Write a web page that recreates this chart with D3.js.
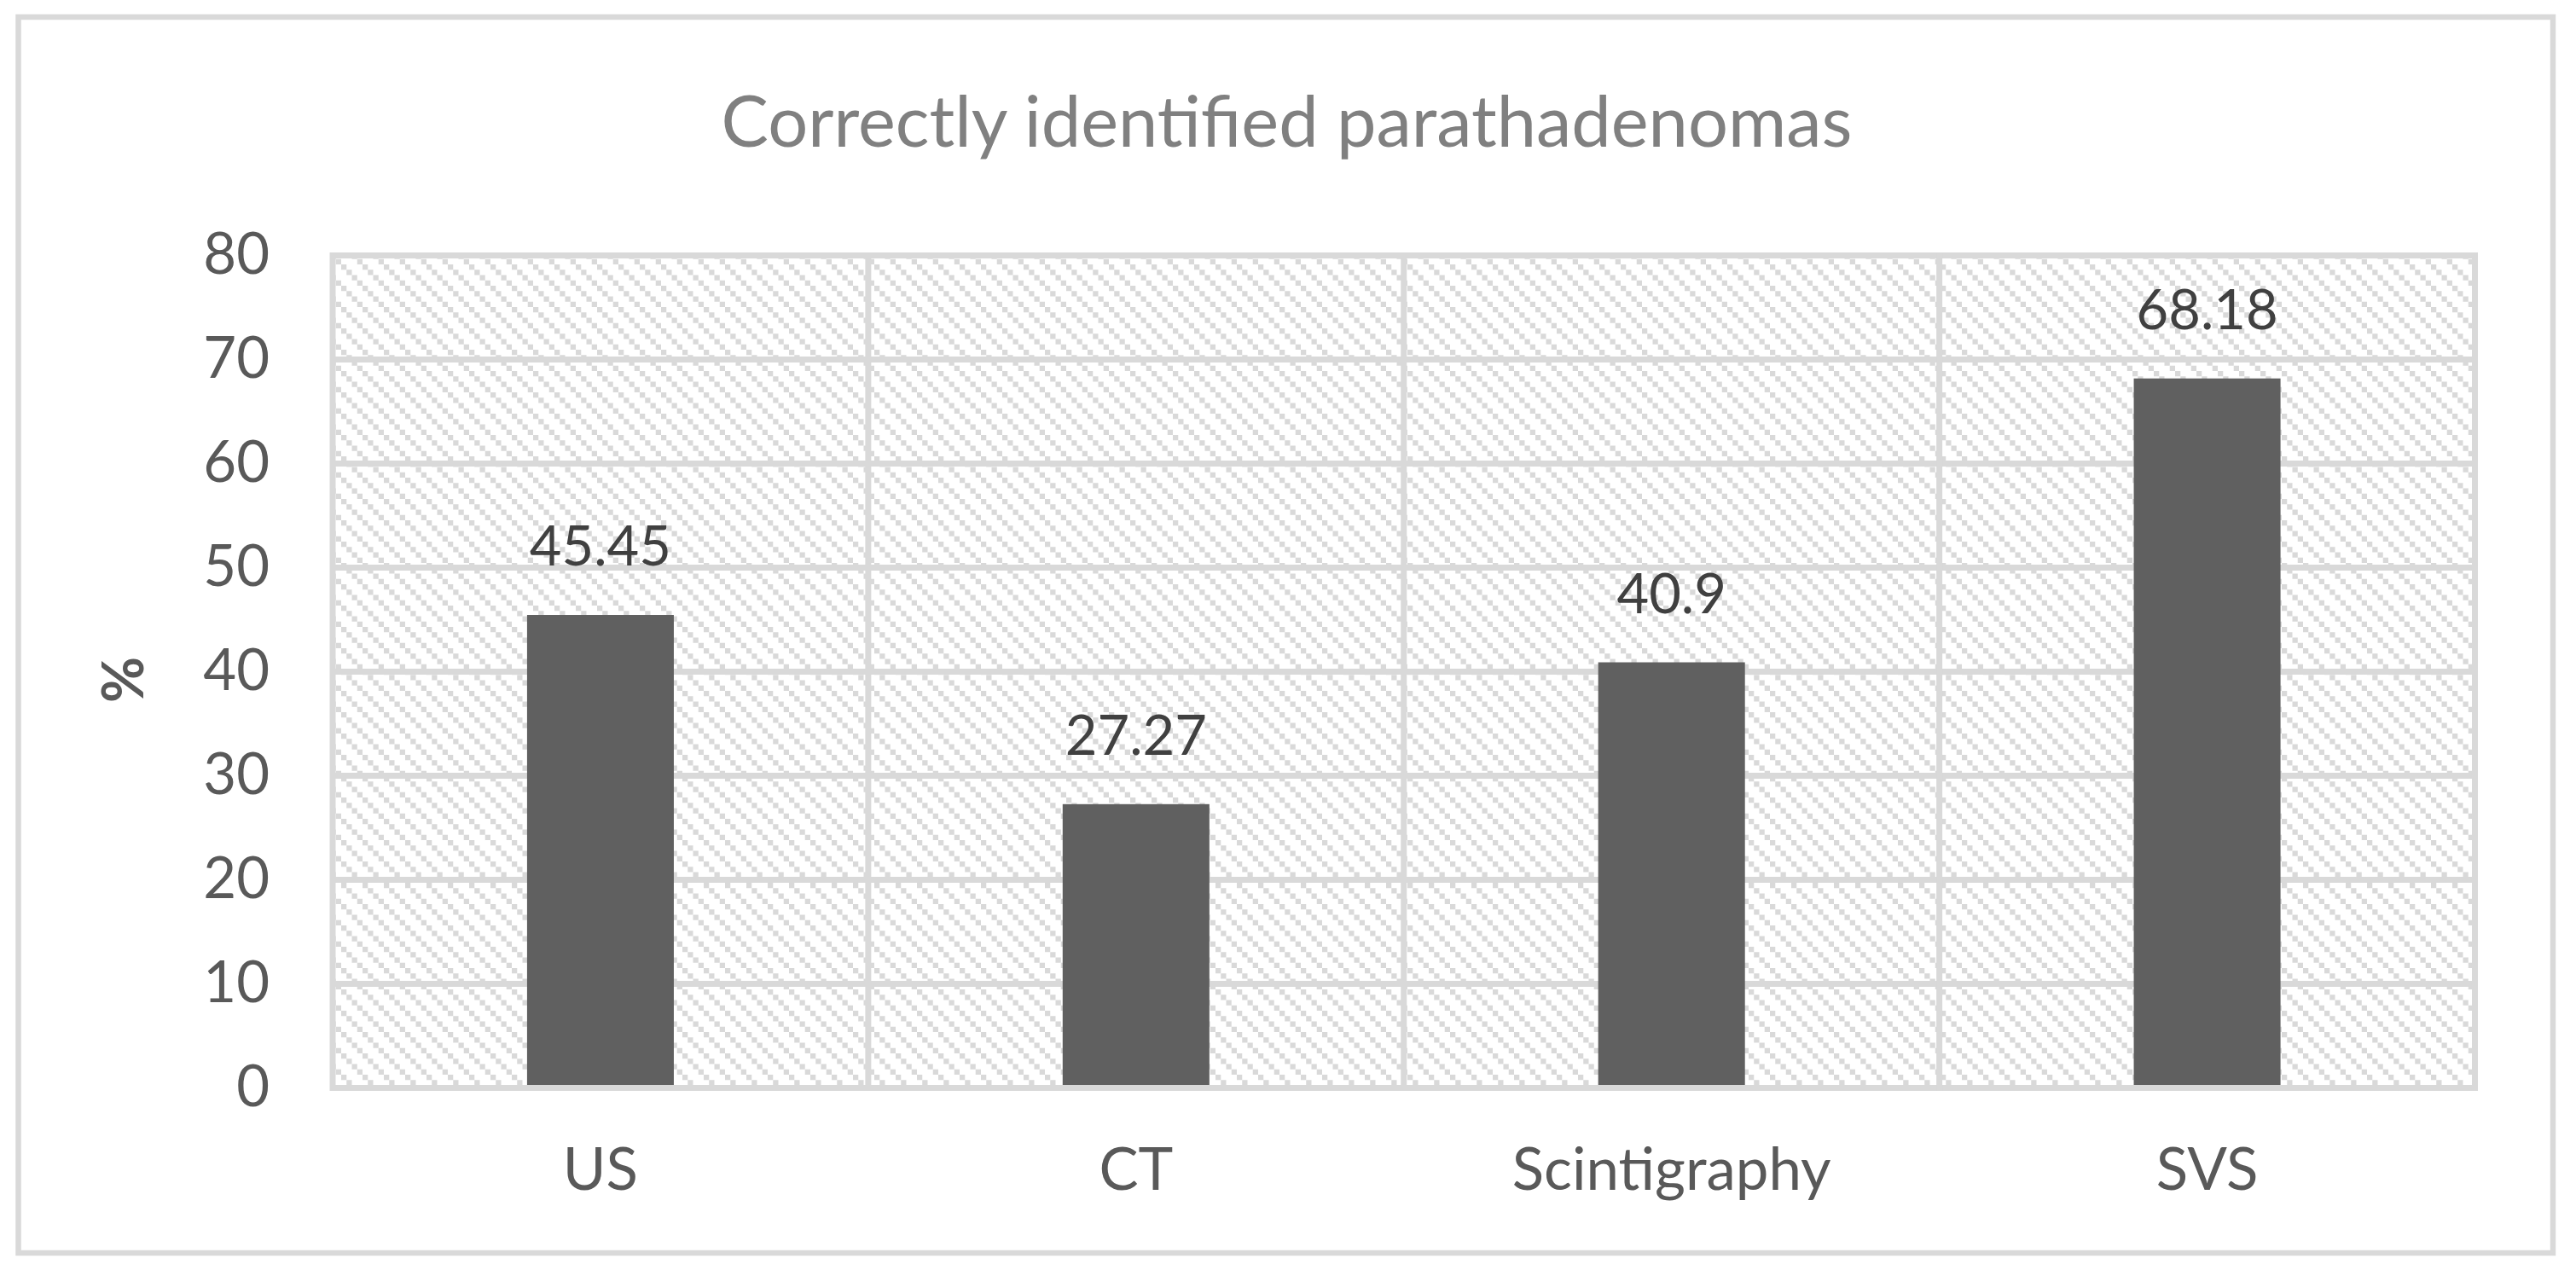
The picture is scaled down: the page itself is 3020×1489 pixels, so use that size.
<!DOCTYPE html>
<html>
<head>
<meta charset="utf-8">
<script src="https://cdn.jsdelivr.net/npm/d3@7"></script>
<style>
  html, body { margin: 0; padding: 0; background: #ffffff; }
  svg { display: block; }
</style>
</head>
<body>
<script>
// ---- data ----
const categories = ["US", "CT", "Scintigraphy", "SVS"];
const values = [45.45, 27.27, 40.9, 68.18];
const valueLabels = ["45.45", "27.27", "40.9", "68.18"];
const yTicks = [0, 10, 20, 30, 40, 50, 60, 70, 80];
const titleText = "Correctly identified parathadenomas";
const yTitle = "%";

// ---- layout ----
const W = 3020, H = 1489;
const plot = { left: 390, right: 2901.5, top: 299.5, bottom: 1275.5 };
const FONT = "Lato, 'Open Sans', 'Noto Sans', sans-serif";
const grid = "#d9d9d9";

const svg = d3.select("body").append("svg")
  .attr("width", W).attr("height", H);

// pattern
const defs = svg.append("defs");
const pat = defs.append("pattern")
  .attr("id", "diag")
  .attr("patternUnits", "userSpaceOnUse")
  .attr("x", 0).attr("y", 10)
  .attr("width", 25).attr("height", 25);
pat.append("rect").attr("width", 25).attr("height", 25).attr("fill", "#ffffff");
[0, 1, 2, 3].forEach(i => {
  pat.append("rect")
    .attr("x", i * 6.25).attr("y", i * 6.25)
    .attr("width", 6.25).attr("height", 6.25)
    .attr("fill", grid);
});

// chart background + border
svg.append("rect").attr("x", 0).attr("y", 0).attr("width", W).attr("height", H).attr("fill", "#fff");
svg.append("rect")
  .attr("x", 21.5).attr("y", 20)
  .attr("width", 2993 - 21.5).attr("height", 1469 - 20)
  .attr("fill", "#fff").attr("stroke", grid).attr("stroke-width", 6.5);

// scales
const xOuter = d3.scaleBand().domain(categories).range([plot.left, plot.right]).padding(0);
const barFrac = 0.274;
const y = d3.scaleLinear().domain([0, 80]).range([plot.bottom, plot.top]);

// plot area with pattern
svg.append("rect")
  .attr("x", plot.left).attr("y", plot.top)
  .attr("width", plot.right - plot.left).attr("height", plot.bottom - plot.top)
  .attr("fill", "url(#diag)");

// horizontal gridlines
svg.append("g").selectAll("line").data(yTicks).join("line")
  .attr("x1", plot.left).attr("x2", plot.right)
  .attr("y1", d => y(d)).attr("y2", d => y(d))
  .attr("stroke", grid).attr("stroke-width", 7);

// vertical gridlines at category boundaries
const bounds = categories.map(c => xOuter(c)).concat([plot.right]);
svg.append("g").selectAll("line").data(bounds).join("line")
  .attr("x1", d => d).attr("x2", d => d)
  .attr("y1", plot.top - 3.5).attr("y2", plot.bottom + 3.5)
  .attr("stroke", grid).attr("stroke-width", 7);

// bars
const bw = xOuter.bandwidth() * barFrac;
svg.append("g").selectAll("rect").data(values).join("rect")
  .attr("x", (d, i) => xOuter(categories[i]) + (xOuter.bandwidth() - bw) / 2)
  .attr("width", bw)
  .attr("y", d => y(d))
  .attr("height", d => y(0) - y(d) - 3.5)
  .attr("fill", "#606060");

// value labels
svg.append("g").selectAll("text").data(values).join("text")
  .attr("x", (d, i) => xOuter(categories[i]) + xOuter.bandwidth() / 2)
  .attr("y", d => y(d) - 58)
  .attr("text-anchor", "middle")
  .attr("font-family", FONT).attr("font-size", 65)
  .attr("fill", "#404040")
  .text((d, i) => valueLabels[i]);

// y axis
const yAxis = d3.axisLeft(y).tickValues(yTicks).tickSize(0).tickPadding(74);
const gy = svg.append("g").attr("transform", `translate(${plot.left},0)`).call(yAxis);
gy.select(".domain").remove();
gy.selectAll("text")
  .attr("font-family", FONT).attr("font-size", 67)
  .attr("fill", "#595959");

// x axis
const xAxis = d3.axisBottom(xOuter).tickSize(0).tickPadding(71);
const gx = svg.append("g").attr("transform", `translate(0,${plot.bottom})`).call(xAxis);
gx.select(".domain").remove();
gx.selectAll("text")
  .attr("font-family", FONT).attr("font-size", 69)
  .attr("fill", "#595959");

// y title
svg.append("text")
  .attr("transform", "translate(168,797) rotate(-90)")
  .attr("text-anchor", "middle")
  .attr("font-family", FONT).attr("font-size", 66).attr("font-weight", "bold")
  .attr("fill", "#595959")
  .text(yTitle);

// title
svg.append("text")
  .attr("x", 1508.5).attr("y", 172)
  .attr("text-anchor", "middle")
  .attr("font-family", FONT).attr("font-size", 83)
  .attr("fill", "#808080")
  .text(titleText);
</script>
</body>
</html>
